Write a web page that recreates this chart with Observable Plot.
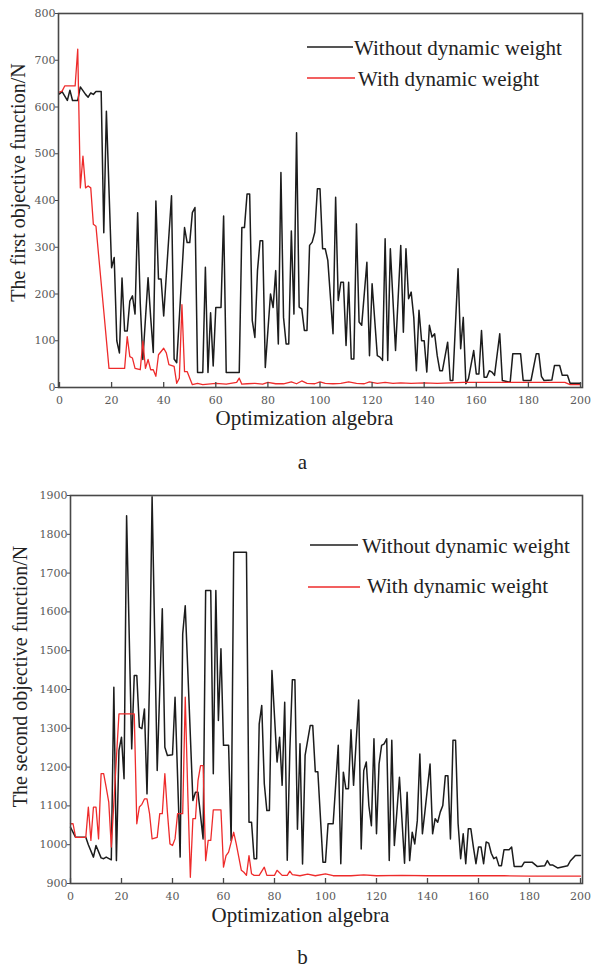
<!DOCTYPE html>
<html>
<head>
<meta charset="utf-8">
<script src="https://cdn.jsdelivr.net/npm/d3@7"></script>
<script src="https://cdn.jsdelivr.net/npm/@observablehq/plot@0.6"></script>
<style>
  body { margin: 0; background: #fff; }
  #chart { width: 598px; }
  #chart svg { display: block; }
</style>
</head>
<body>
<div id="chart"></div>
<script>
// ---------- data (generation, value in N) ----------
const seriesNames = ["Without dynamic weight", "With dynamic weight"];
const xTicks = [0, 20, 40, 60, 80, 100, 120, 140, 160, 180, 200];
const topYTicks = [0, 100, 200, 300, 400, 500, 600, 700, 800];
const bottomYTicks = [900, 1000, 1100, 1200, 1300, 1400, 1500, 1600, 1700, 1800, 1900];
const xTitle = "Optimization algebra";
const topYTitle = "The first objective function/N";
const bottomYTitle = "The second objective function/N";
const captions = ["a", "b"];

const firstWithout = [[0,628],[1,633],[3,614],[4,636],[5,614],[7,614],[8,643],[10,627],[11,621],[12,630],[13,627],[14,633],[16,633],[17,331],[18,591],[20,256],[21,278],[22,100],[23,74],[24,234],[25,121],[26,121],[27,185],[28,196],[29,157],[30,374],[31,180],[32,60],[34,235],[35,150],[36,75],[37,399],[38,232],[39,232],[40,153],[41,240],[43,410],[44,61],[45,53],[48,342],[49,310],[50,310],[51,374],[52,385],[53,32],[55,32],[56,257],[57,32],[58,160],[59,46],[60,171],[62,171],[63,367],[64,32],[69,32],[70,342],[71,342],[72,414],[73,414],[74,143],[75,107],[76,250],[77,314],[78,314],[79,43],[81,200],[82,171],[83,250],[84,93],[85,460],[86,150],[87,93],[88,93],[89,335],[90,157],[91,545],[92,172],[93,168],[94,122],[95,122],[96,304],[97,311],[98,332],[99,425],[100,425],[101,297],[102,297],[103,272],[105,115],[106,407],[107,186],[108,225],[109,225],[110,90],[111,225],[112,61],[113,61],[114,350],[115,140],[116,133],[118,268],[119,68],[120,222],[122,68],[123,65],[124,58],[125,318],[126,58],[127,297],[129,79],[131,304],[132,118],[133,297],[134,190],[135,204],[136,150],[137,36],[138,165],[139,100],[140,100],[141,33],[142,133],[143,108],[144,115],[145,68],[146,36],[147,36],[149,97],[150,15],[151,15],[153,254],[154,83],[155,150],[156,8],[157,19],[159,79],[160,29],[161,29],[162,122],[163,22],[164,22],[165,36],[166,33],[167,26],[169,115],[170,15],[173,11],[174,72],[177,72],[178,15],[181,15],[183,72],[184,72],[185,24],[186,15],[189,16],[190,47],[192,47],[193,26],[195,26],[196,9],[200,9]];

const firstWith = [[0,632],[1,634],[2,645],[6,645],[7,724],[8,427],[9,495],[10,427],[11,431],[12,427],[13,349],[14,345],[15,284],[17,163],[19,41],[25,41],[26,109],[27,66],[28,63],[29,41],[31,38],[32,99],[33,41],[34,60],[35,38],[36,38],[37,24],[38,70],[40,84],[41,74],[42,49],[44,45],[45,9],[46,20],[47,177],[48,34],[49,34],[51,6],[53,9],[55,6],[60,9],[64,7],[68,11],[69,20],[70,7],[72,8],[75,9],[78,7],[80,11],[83,8],[86,8],[89,12],[91,8],[93,14],[95,9],[98,8],[100,12],[102,9],[105,8],[108,9],[111,12],[114,9],[117,8],[119,12],[122,9],[125,11],[128,9],[131,10],[135,9],[140,10],[145,9],[150,10],[155,11],[160,11],[170,11],[180,11],[190,11],[194,11],[196,6],[200,6]];

const secondWithout = [[0,1045],[2,1019],[6,1019],[7,1000],[9,968],[10,998],[12,966],[13,964],[14,968],[16,961],[17,1406],[18,959],[19,1243],[20,1277],[21,1170],[22,1848],[24,1247],[25,1436],[26,1436],[27,1303],[28,1299],[29,1350],[30,1131],[31,1423],[32,1897],[34,1191],[36,1608],[37,1251],[38,1230],[40,1232],[41,1380],[43,968],[44,1543],[45,1616],[48,1114],[49,1135],[50,1135],[52,1015],[53,1655],[55,1655],[56,1183],[57,1655],[58,1320],[59,1505],[60,1256],[62,1256],[63,1011],[64,1754],[69,1754],[70,1058],[71,1058],[72,964],[73,964],[74,1311],[75,1359],[76,1157],[77,1088],[78,1088],[79,1449],[81,1213],[82,1277],[83,1153],[84,1367],[85,960],[86,1240],[87,1425],[88,1425],[89,1040],[90,1260],[91,950],[92,1230],[94,1307],[95,1307],[96,1188],[97,1188],[99,955],[100,955],[101,1054],[103,1054],[105,1256],[106,951],[107,1187],[108,1144],[109,1144],[110,1296],[111,1153],[113,1373],[114,989],[115,1191],[116,1213],[117,1101],[118,1049],[119,1273],[120,1028],[121,1208],[122,1256],[123,1260],[124,1273],[125,959],[126,1269],[127,998],[129,1174],[131,952],[132,1135],[133,959],[134,1032],[135,1002],[136,1062],[137,1234],[138,1028],[139,1086],[141,1208],[142,1028],[143,1067],[144,1058],[145,1084],[146,1101],[147,1178],[148,1178],[149,1015],[150,1269],[151,1269],[152,1054],[153,964],[154,1028],[155,951],[156,1041],[157,1041],[158,994],[159,951],[160,994],[161,994],[162,951],[163,1007],[164,1004],[165,978],[166,964],[167,968],[168,946],[169,946],[170,987],[172,987],[173,994],[174,944],[177,944],[178,955],[181,955],[183,944],[186,946],[187,959],[188,948],[189,948],[191,940],[195,946],[196,958],[198,972],[200,972]];

const secondWith = [[0,1054],[1,1054],[2,1019],[6,1019],[7,1097],[8,1011],[9,1097],[10,1097],[11,1015],[12,1183],[13,1183],[14,1148],[15,1110],[16,994],[19,1337],[25,1337],[26,1054],[27,1097],[28,1104],[29,1118],[30,1118],[31,1080],[32,1015],[34,1019],[35,1080],[36,1080],[37,1183],[38,1084],[39,1002],[40,998],[41,1015],[42,1080],[44,1080],[45,1380],[46,1131],[47,916],[48,1067],[49,1067],[50,1165],[51,1204],[52,1204],[53,959],[54,1011],[55,1011],[56,1090],[59,1090],[60,942],[61,972],[62,981],[64,1032],[65,1002],[66,968],[67,934],[68,929],[69,921],[70,972],[71,925],[72,921],[74,921],[76,942],[77,921],[80,921],[81,934],[83,921],[85,921],[86,932],[87,923],[90,920],[93,924],[96,920],[100,925],[103,920],[110,920],[115,922],[120,920],[130,921],[140,920],[150,920],[160,920],[170,920],[180,919],[190,919],[200,919]];

// ---------- drawing ----------
const serif = "'Liberation Serif', 'Times New Roman', serif";
const tickFont = "'DejaVu Serif', serif";
const toRows = (pairs) => pairs.map(([gen, value]) => ({gen, value}));

function panel(cfg) {
  const frameH = cfg.height - cfg.marginTop - cfg.marginBottom;
  const svg = Plot.plot({
    width: 598,
    height: cfg.height,
    marginTop: cfg.marginTop,
    marginBottom: cfg.marginBottom,
    marginLeft: cfg.marginLeft,
    marginRight: 16,
    x: {domain: [0, 200], insetLeft: cfg.insetLeft, insetRight: 2, label: null},
    y: {domain: cfg.yDomain, label: null},
    style: {background: "white", overflow: "visible"},
    marks: [
      Plot.line(toRows(cfg.without), {x: "gen", y: "value", stroke: "#1c1c1c", strokeWidth: 1.5}),
      Plot.line(toRows(cfg.withW), {x: "gen", y: "value", stroke: "#ee2b2b", strokeWidth: 1.3}),
      Plot.frame({stroke: "#484848", strokeWidth: 1.6}),
      Plot.tickX(xTicks, {x: d => d, insetTop: frameH - 5, stroke: "#484848", strokeWidth: 1.3}),
      Plot.axisX(xTicks, {tickSize: 0, tickPadding: 9, tickFormat: d => `${d}`, fontSize: 11, fontFamily: tickFont, fill: "#5a5a5a", label: null}),
      Plot.axisY(cfg.yTicks, {tickSize: 3, tickPadding: 0, tickFormat: d => `${d}`, fontSize: 11, fontFamily: tickFont, fill: "#5a5a5a", stroke: "#484848", label: null}),
      Plot.text([xTitle], {frameAnchor: "bottom", textAnchor: "middle", dx: cfg.titleDx, dy: cfg.xTitleDy, lineAnchor: "middle", fontSize: 21, fontFamily: serif, fill: "#222"}),
      Plot.text([cfg.yTitle], {frameAnchor: "left", textAnchor: "middle", rotate: -90, dx: cfg.yTitleDx, dy: cfg.yTitleDy, lineAnchor: "middle", fontSize: 20, fontFamily: serif, fill: "#222"}),
      Plot.text([cfg.caption], {frameAnchor: "bottom", textAnchor: "middle", dx: cfg.capDx, dy: cfg.capDy, lineAnchor: "middle", fontSize: 21, fontFamily: serif, fill: "#222"})
    ]
  });
  // legend inside the frame
  const g = d3.select(svg).append("g")
    .attr("font-family", serif).attr("font-size", 21).attr("fill", "#222")
    .attr("text-anchor", "start");
  const colors = ["#1c1c1c", "#ee2b2b"];
  cfg.legend.forEach((it, k) => {
    g.append("line").attr("x1", it.x1).attr("x2", it.x2).attr("y1", it.ly).attr("y2", it.ly)
      .attr("stroke", colors[k]).attr("stroke-width", k ? 1.3 : 1.5);
    g.append("text").attr("x", it.tx).attr("y", it.base).attr("text-anchor", "start").text(seriesNames[k]);
  });
  return svg;
}

const chart = document.getElementById("chart");
chart.appendChild(panel({
  height: 480, marginTop: 13, marginBottom: 93, marginLeft: 58, insetLeft: 1,
  yDomain: [0, 800], yTicks: topYTicks,
  without: firstWithout, withW: firstWith,
  yTitle: topYTitle, caption: captions[0],
  titleDx: -16, xTitleDy: 31, yTitleDx: -40, yTitleDy: -18, capDx: -18, capDy: 75,
  legend: [
    {x1: 307, x2: 353, ly: 47, tx: 354, base: 55},
    {x1: 307, x2: 355, ly: 78, tx: 358, base: 86}
  ]
}));
chart.appendChild(panel({
  height: 492, marginTop: 15, marginBottom: 89, marginLeft: 70, insetLeft: 0,
  yDomain: [900, 1900], yTicks: bottomYTicks,
  without: secondWithout, withW: secondWith,
  yTitle: bottomYTitle, caption: captions[1],
  titleDx: -26, xTitleDy: 32, yTitleDx: -50, yTitleDy: -13, capDx: -24, capDy: 74,
  legend: [
    {x1: 310, x2: 358, ly: 65, tx: 362, base: 73},
    {x1: 308, x2: 360, ly: 107, tx: 367, base: 113}
  ]
}));
</script>
</body>
</html>
